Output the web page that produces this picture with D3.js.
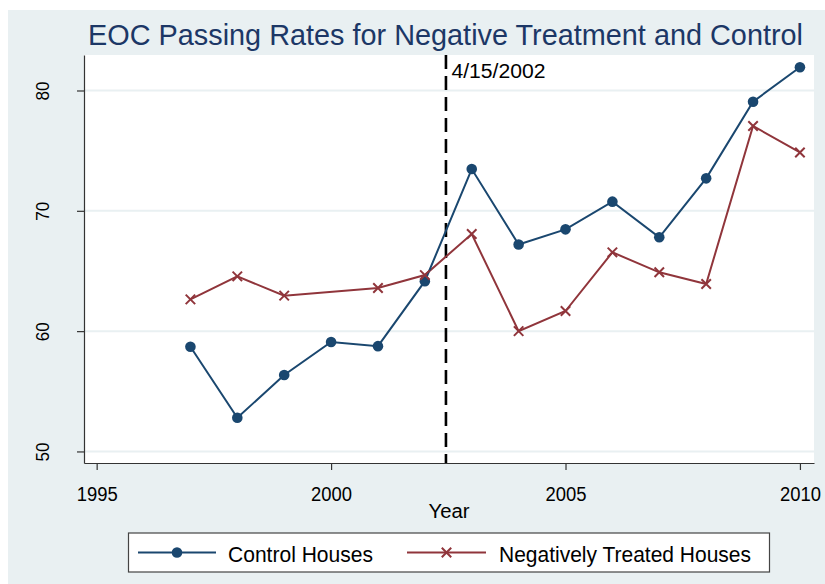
<!DOCTYPE html>
<html>
<head>
<meta charset="utf-8">
<script src="https://cdn.jsdelivr.net/npm/d3@7"></script>
<style>
  body { margin: 0; background: #fff; }
  text { font-family: "Liberation Sans", Arial, sans-serif; }
</style>
</head>
<body>
<div class="eoc-viz"></div>
<script>
const WIDTH = 825,
    HEIGHT = 584;

// data
const years = [1997, 1998, 1999, 2000, 2001, 2002, 2003, 2004, 2005, 2006, 2007, 2008, 2009, 2010];
const controlRates = [58.7, 52.8, 56.35, 59.1, 58.75, 64.15, 73.47, 67.2, 68.46, 70.76, 67.8, 72.7, 79.07, 81.93];
const treatedYears = [1997, 1998, 1999, 2001, 2002, 2003, 2004, 2005, 2006, 2007, 2008, 2009, 2010];
const treatedRates = [62.64, 64.55, 62.95, 63.58, 64.66, 68.07, 60.0, 61.67, 66.55, 64.89, 63.92, 77.05, 74.85];
const xTicks = [1995, 2000, 2005, 2010];
const yTicks = [50, 60, 70, 80];
const eventYear = 2002.45;
const eventLabel = "4/15/2002";
const seriesNames = ["Control Houses", "Negatively Treated Houses"];

const NAVY = "#1a476f",
    MAROON = "#90353b",
    BG = "#e9f0f2";

const plot = { left: 84, right: 814, top: 55, bottom: 463 };

const svg = d3.select(".eoc-viz")
    .append("svg")
    .attr("width", WIDTH)
    .attr("height", HEIGHT);

// page strip + graph region
svg.append("rect").attr("width", WIDTH).attr("height", HEIGHT).attr("fill", "#fff");
svg.append("rect")
    .attr("x", 8).attr("y", 10)
    .attr("width", WIDTH - 8).attr("height", HEIGHT - 10)
    .attr("fill", BG);

svg.append("rect")
    .attr("x", plot.left).attr("y", plot.top)
    .attr("width", plot.right - plot.left).attr("height", plot.bottom - plot.top)
    .attr("fill", "#fff");

const x = d3.scaleLinear().domain([1994.73, 2010.3]).range([plot.left, plot.right]);
const y = d3.scaleLinear().domain([49.04, 82.95]).range([plot.bottom, plot.top]);

// gridlines
svg.append("g")
    .selectAll("line")
    .data(yTicks)
    .join("line")
    .attr("x1", plot.left).attr("x2", plot.right)
    .attr("y1", d => y(d)).attr("y2", d => y(d))
    .attr("stroke", BG)
    .attr("stroke-width", 2);

// axes
const xAxis = svg.append("g")
    .attr("transform", `translate(0,${plot.bottom})`)
    .call(d3.axisBottom(x).tickValues(xTicks).tickFormat(d3.format("d")).tickSize(7).tickPadding(16).tickSizeOuter(0));

const yAxis = svg.append("g")
    .attr("transform", `translate(${plot.left},0)`)
    .call(d3.axisLeft(y).tickValues(yTicks).tickSize(7).tickSizeOuter(0));

yAxis.selectAll("text")
    .attr("x", null)
    .attr("dy", null)
    .attr("text-anchor", "middle")
    .attr("transform", "translate(-34.7,0) rotate(-90)");

[xAxis, yAxis].forEach(a => {
    a.select(".domain").attr("stroke", "#333").attr("stroke-width", 1.2);
    a.selectAll(".tick line").attr("stroke", "#333").attr("stroke-width", 1.2);
});

xAxis.selectAll("text")
    .attr("fill", "#000")
    .attr("textLength", 41)
    .attr("lengthAdjust", "spacingAndGlyphs")
    .style("font-size", "20.5px")
    .style("font-family", "'Liberation Sans', Arial, sans-serif");

yAxis.selectAll("text")
    .attr("fill", "#000")
    .attr("textLength", 19)
    .attr("lengthAdjust", "spacingAndGlyphs")
    .style("font-size", "18px")
    .style("font-family", "'Liberation Sans', Arial, sans-serif");

// event line
svg.append("line")
    .attr("x1", x(eventYear)).attr("x2", x(eventYear))
    .attr("y1", plot.top).attr("y2", plot.bottom)
    .attr("stroke", "#000")
    .attr("stroke-width", 2.6)
    .attr("stroke-dasharray", "14,7");

svg.append("text")
    .attr("x", x(eventYear) + 5.5)
    .attr("y", 78)
    .attr("font-size", 20)
    .attr("fill", "#000")
    .attr("textLength", 94)
    .attr("lengthAdjust", "spacingAndGlyphs")
    .text(eventLabel);

// lines and markers
const line = d3.line().x(d => x(d[0])).y(d => y(d[1]));
const controlPts = years.map((yr, i) => [yr, controlRates[i]]);
const treatedPts = treatedYears.map((yr, i) => [yr, treatedRates[i]]);

svg.append("path")
    .attr("d", line(treatedPts))
    .attr("fill", "none")
    .attr("stroke", MAROON)
    .attr("stroke-width", 2);

svg.append("path")
    .attr("d", line(controlPts))
    .attr("fill", "none")
    .attr("stroke", NAVY)
    .attr("stroke-width", 2);

svg.append("g")
    .selectAll("circle")
    .data(controlPts)
    .join("circle")
    .attr("cx", d => x(d[0]))
    .attr("cy", d => y(d[1]))
    .attr("r", 5.3)
    .attr("fill", NAVY);

const cross = d3.symbol().type(d3.symbolX).size(60);
svg.append("g")
    .selectAll("path")
    .data(treatedPts)
    .join("path")
    .attr("transform", d => `translate(${x(d[0])},${y(d[1])})`)
    .attr("d", cross)
    .attr("fill", "none")
    .attr("stroke", MAROON)
    .attr("stroke-width", 2);

// title + axis title
svg.append("text")
    .attr("x", 445.5)
    .attr("y", 44.5)
    .attr("text-anchor", "middle")
    .attr("font-size", 29)
    .attr("fill", "#1c3766")
    .attr("textLength", 715)
    .attr("lengthAdjust", "spacingAndGlyphs")
    .text("EOC Passing Rates for Negative Treatment and Control");

svg.append("text")
    .attr("x", (plot.left + plot.right) / 2)
    .attr("y", 518)
    .attr("text-anchor", "middle")
    .attr("font-size", 20)
    .attr("fill", "#000")
    .attr("textLength", 41)
    .attr("lengthAdjust", "spacingAndGlyphs")
    .text("Year");

// legend
const legend = svg.append("g");
legend.append("rect")
    .attr("x", 128.5).attr("y", 533)
    .attr("width", 641).attr("height", 39)
    .attr("fill", "#fff")
    .attr("stroke", "#444")
    .attr("stroke-width", 1.2);

const items = [
    { name: seriesNames[0], color: NAVY, x1: 138, x2: 216, tx: 228, tw: 145, mark: "dot" },
    { name: seriesNames[1], color: MAROON, x1: 407, x2: 486, tx: 499, tw: 252, mark: "x" }
];
items.forEach(it => {
    legend.append("line")
        .attr("x1", it.x1).attr("x2", it.x2)
        .attr("y1", 552.5).attr("y2", 552.5)
        .attr("stroke", it.color)
        .attr("stroke-width", 2);
    const mx = (it.x1 + it.x2) / 2;
    if (it.mark === "dot") {
        legend.append("circle").attr("cx", mx).attr("cy", 552.5).attr("r", 5.3).attr("fill", it.color);
    } else {
        legend.append("path")
            .attr("transform", `translate(${mx},552.5)`)
            .attr("d", cross)
            .attr("fill", "none")
            .attr("stroke", it.color)
            .attr("stroke-width", 2);
    }
    legend.append("text")
        .attr("x", it.tx)
        .attr("y", 561.5)
        .attr("font-size", 22.5)
        .attr("fill", "#000")
        .attr("textLength", it.tw)
        .attr("lengthAdjust", "spacingAndGlyphs")
        .text(it.name);
});
</script>
</body>
</html>
